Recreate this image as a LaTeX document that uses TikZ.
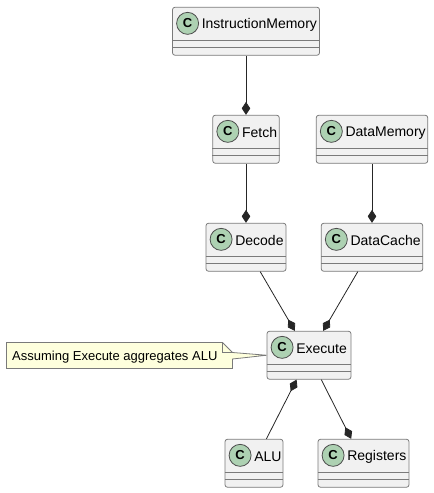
\documentclass[tikz,border=0pt]{standalone}
\usepackage{fontspec}
\setmainfont{Liberation Sans}
\usetikzlibrary{arrows.meta}
\definecolor{classfill}{HTML}{F1F1F1}
\definecolor{classline}{HTML}{7A7A7A}
\definecolor{spotfill}{HTML}{ADD1B2}
\definecolor{notefill}{HTML}{FEFFDD}

\begin{document}
\begin{tikzpicture}[x = 1pt, y = -1pt,
    classbox/.style = {draw = classline, fill = classfill, rounded corners = 2.5pt, line width = 0.8pt,
        minimum height = 48pt, inner sep = 0pt},
    divider/.style = {draw = classline, line width = 0.8pt},
    spot/.style = {circle, draw = black!70, fill = spotfill, line width = 0.8pt, minimum size = 22pt,
        inner sep = 0pt, font = \fontsize{13}{13}\selectfont\bfseries},
    title/.style = {anchor = west, inner sep = 0pt, font = \fontsize{14}{14}\selectfont},
    comp/.style = {draw = black!85, line width = 0.8pt, {Diamond[length = 13pt, width = 8.5pt]}-}]
    \useasboundingbox (0,0) rectangle (434,493);

    % classes: name / centre x / centre y / width / text
    \foreach \name/\cx/\cy/\wid/\lab in {
            instr/246/31.25/147/InstructionMemory,
            fetch/246/139.25/66.5/Fetch,
            dmem/372/139.25/111.5/DataMemory,
            decode/246/247.25/80/Decode,
            dcache/372/247.25/101.5/DataCache,
            exec/309/355.25/84/Execute,
            alu/254/463.25/58/ALU,
            regs/363.5/463.25/91/Registers} {
        \node[classbox, minimum width = \wid pt] (\name) at (\cx,\cy) {};
        \draw[divider] ([yshift = 8pt]\name.south west) -- ([yshift = 8pt]\name.south east);
        \draw[divider] ([yshift = 15.5pt]\name.south west) -- ([yshift = 15.5pt]\name.south east);
        \node[spot] (\name spot) at ([xshift = 15.5pt, yshift = -16.5pt]\name.north west) {C};
        \node[title] (\name text) at ([xshift = 29.5pt, yshift = -18pt]\name.north west) {\lab};
    }

    % composition links, diamond on the owner
    \draw[comp] (fetch) -- (instr);
    \draw[comp] (decode) -- (fetch);
    \draw[comp] (dcache) -- (dmem);
    \draw[comp] (exec) -- (decode);
    \draw[comp] (exec) -- (dcache);
    \draw[comp] (exec) -- (alu);
    \draw[comp] (regs) -- (exec);

    % note
    \draw[classline, fill = notefill, line width = 0.8pt] (6.5,342.5) -- (222.5,342.5) -- (232.5,352.5)
        -- (exec.west) -- (232.5,359) -- (232.5,368.5) -- (6.5,368.5) -- cycle;
    \draw[classline, line width = 0.8pt] (222.5,342.5) -- (222.5,352.5) -- (232.5,352.5);
    \node[anchor = west, inner sep = 0pt, font = \fontsize{13}{13}\selectfont] (assume) at (12,357)
        {Assuming Execute aggregates ALU};
\end{tikzpicture}
\end{document}
